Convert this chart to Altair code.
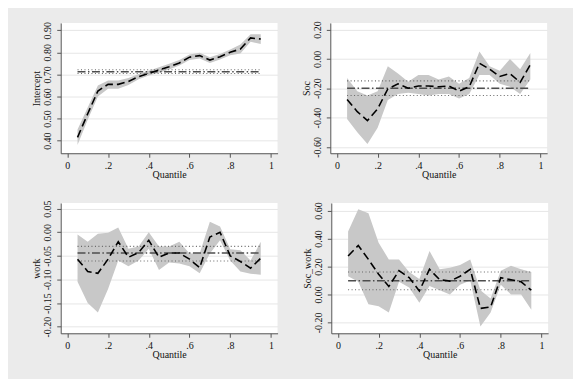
import altair as alt
import pandas as pd

quantiles = [0.05, 0.10, 0.15, 0.20, 0.25, 0.30, 0.35, 0.40, 0.45, 0.50,
             0.55, 0.60, 0.65, 0.70, 0.75, 0.80, 0.85, 0.90, 0.95]

# Intercept
int_est = [0.415, 0.522, 0.625, 0.655, 0.655, 0.668, 0.690, 0.705, 0.720, 0.735,
           0.752, 0.778, 0.785, 0.765, 0.780, 0.800, 0.815, 0.865, 0.860]
int_lo = [0.380, 0.495, 0.600, 0.635, 0.635, 0.652, 0.678, 0.695, 0.708, 0.722,
          0.740, 0.765, 0.772, 0.752, 0.768, 0.787, 0.795, 0.848, 0.838]
int_hi = [0.450, 0.550, 0.650, 0.672, 0.672, 0.684, 0.702, 0.716, 0.732, 0.748,
          0.765, 0.790, 0.798, 0.778, 0.792, 0.813, 0.835, 0.882, 0.882]
int_ols = [0.712, 0.704, 0.721]

# Soc
soc_est = [-0.276, -0.360, -0.420, -0.340, -0.205, -0.170, -0.200, -0.185, -0.185, -0.190,
           -0.185, -0.220, -0.190, -0.030, -0.070, -0.120, -0.100, -0.160, -0.040]
soc_lo = [-0.410, -0.500, -0.580, -0.470, -0.280, -0.240, -0.230, -0.240, -0.250, -0.240,
          -0.240, -0.270, -0.240, -0.110, -0.110, -0.170, -0.190, -0.240, -0.140]
soc_hi = [-0.130, -0.220, -0.250, -0.220, -0.050, -0.100, -0.155, -0.110, -0.110, -0.140,
          -0.120, -0.170, -0.130, 0.050, -0.050, -0.080, 0.000, -0.070, 0.040]
soc_ols = [-0.200, -0.250, -0.150]

# work
work_est = [-0.057, -0.083, -0.087, -0.057, -0.020, -0.053, -0.043, -0.017, -0.053, -0.044,
            -0.044, -0.057, -0.075, -0.010, 0.000, -0.050, -0.062, -0.076, -0.055]
work_lo = [-0.105, -0.150, -0.170, -0.120, -0.060, -0.072, -0.060, -0.035, -0.080, -0.064,
           -0.066, -0.072, -0.087, -0.045, -0.017, -0.060, -0.083, -0.088, -0.090]
work_hi = [-0.005, -0.020, -0.003, -0.001, 0.010, -0.035, -0.030, 0.000, -0.030, -0.030,
           -0.020, -0.045, -0.045, 0.022, 0.012, -0.036, -0.038, -0.060, -0.020]
work_ols = [-0.044, -0.061, -0.030]

# Soc_work
sw_est = [0.275, 0.350, 0.250, 0.145, 0.057, 0.170, 0.120, 0.025, 0.180, 0.105,
          0.095, 0.130, 0.180, -0.100, -0.090, 0.120, 0.105, 0.090, 0.030]
sw_lo = [0.130, 0.090, -0.070, -0.085, -0.130, 0.090, 0.050, -0.060, 0.060, 0.030,
         0.000, 0.070, 0.100, -0.230, -0.130, 0.070, 0.000, 0.000, -0.110]
sw_hi = [0.450, 0.610, 0.580, 0.370, 0.250, 0.250, 0.160, 0.110, 0.310, 0.180,
         0.190, 0.210, 0.250, 0.030, -0.030, 0.170, 0.205, 0.180, 0.160]
sw_ols = [0.097, 0.033, 0.160]

x_ticks = [0, 0.2, 0.4, 0.6, 0.8, 1]

FONT = "Liberation Serif"
MINUS = "\u2212"


def panel(name, est, lo, hi, ols, ydom, yticks):
    df = pd.DataFrame({"q": quantiles, "est": est, "lo": lo, "hi": hi})
    ols_df = pd.DataFrame({"q": [quantiles[0], quantiles[-1]],
                           "b": [ols[0]] * 2, "l": [ols[1]] * 2, "h": [ols[2]] * 2})
    xs = alt.Scale(domain=[-0.0326, 1.0326], nice=False, zero=False)
    ys = alt.Scale(domain=ydom, nice=False, zero=False)
    xax = alt.Axis(values=x_ticks, title="Quantile", grid=False,
                   labelOverlap=False, labelFlush=False, titlePadding=-1,
                   labelExpr="datum.value == 0 ? '0' : datum.value == 1 ? '1' : replace(format(datum.value, '.1f'), '0.', '.')")
    yax = alt.Axis(values=yticks, title=name, grid=True,
                   labelOverlap=False, labelFlush=False, titlePadding=1,
                   labelExpr="replace(format(datum.value, '.2f'), '" + MINUS + "', '-')",
                   labelAngle=270, labelAlign="center", labelBaseline="bottom")

    def X():
        return alt.X("q:Q", scale=xs, axis=xax)

    def Y(f):
        return alt.Y(f, scale=ys, axis=yax)

    base = alt.Chart(df)
    band = base.mark_area(color="#c8c8c8", opacity=1).encode(
        x=X(), y=Y("lo:Q"), y2="hi:Q")
    line = base.mark_line(color="black", strokeWidth=1.6, strokeDash=[8, 4]).encode(
        x=X(), y=Y("est:Q"))
    ob = alt.Chart(ols_df)
    l1 = ob.mark_line(color="#666666", strokeWidth=1.1, strokeDash=[1, 2.5]).encode(
        x=X(), y=Y("l:Q"))
    l2 = ob.mark_line(color="#666666", strokeWidth=1.1, strokeDash=[1, 2.5]).encode(
        x=X(), y=Y("h:Q"))
    l0 = ob.mark_line(color="#4d4d4d", strokeWidth=1.5, strokeDash=[8, 2.5, 1.5, 2.5]).encode(
        x=X(), y=Y("b:Q"))
    return alt.layer(band, l1, l2, l0, line).properties(width=218, height=131)


p1 = panel("Intercept", int_est, int_lo, int_hi, int_ols, [0.343, 0.933],
           [0.4, 0.5, 0.6, 0.7, 0.8, 0.9])
p2 = panel("Soc", soc_est, soc_lo, soc_hi, soc_ols, [-0.643, 0.245],
           [-0.6, -0.4, -0.2, 0.0, 0.2])
p3 = panel("work", work_est, work_lo, work_hi, work_ols, [-0.214, 0.062],
           [-0.2, -0.15, -0.1, -0.05, 0.0, 0.05])
p4 = panel("Soc_work", sw_est, sw_lo, sw_hi, sw_ols, [-0.278, 0.654],
           [-0.2, 0.0, 0.2, 0.4, 0.6])

chart = alt.vconcat(
    alt.hconcat(p1, p2, spacing=24),
    alt.hconcat(p3, p4, spacing=24),
    spacing=20,
).properties(
    background="#ebebeb",
    padding={"left": 23, "top": 11, "right": 25, "bottom": 30},
).configure_view(
    fill="white", stroke=None
).configure_axis(
    labelFont=FONT, titleFont=FONT, labelFontSize=10, titleFontSize=10,
    labelColor="#111111", titleColor="#111111", titleFontWeight="normal",
    domainColor="#555555", tickColor="#555555", tickSize=4,
    gridColor="#e6e6e6", gridWidth=1, labelPadding=3,
    labelBound=False,
).configure_axisY(
    labelPadding=4,
)

chart.save("out.html", embed_options={"renderer": "svg", "actions": False})
